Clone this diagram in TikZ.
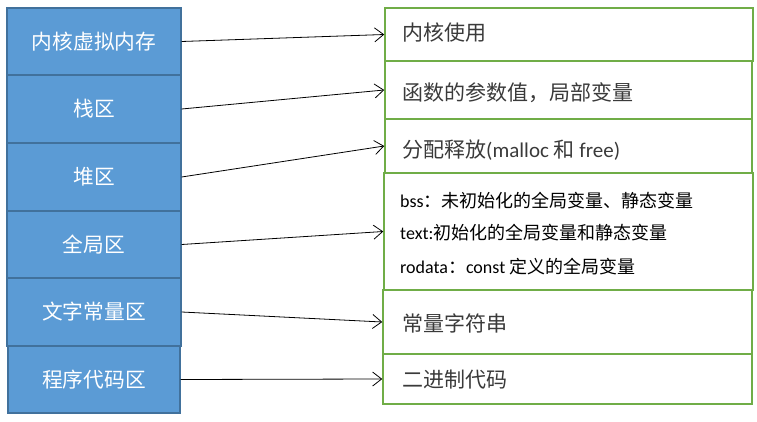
\documentclass[tikz,border=0pt]{standalone}
\usepackage{fontspec}
\setmainfont{Carlito}
\newfontfamily\cjk{Noto Sans CJK SC}
\newfontfamily\lat{Carlito}
\usetikzlibrary{arrows.meta}
\definecolor{lfill}{HTML}{5B9BD5}
\definecolor{ldraw}{HTML}{41719C}
\definecolor{rdraw}{HTML}{70AD47}
\definecolor{rtext}{HTML}{3A3A3A}
\tikzset{
  lbox/.style={rectangle, draw=ldraw, fill=lfill, line width=1.3pt, inner sep=0pt,
    text=white, font=\cjk\fontsize{20.7}{24}\selectfont},
  rbox/.style={rectangle, draw=rdraw, line width=1.5pt, inner sep=0pt},
  rlabel/.style={anchor=west, inner sep=0pt, text=rtext, font=\cjk\fontsize{21}{25}\selectfont},
  slabel/.style={anchor=west, inner sep=0pt, text=black, font=\fontsize{18}{21}\selectfont},
  conn/.style={line width=0.8pt, -{Straight Barb[length=9pt,width=14pt,line width=0.8pt]}}
}
\begin{document}
\begin{tikzpicture}[x=1pt,y=-1pt]
\useasboundingbox (0,0) rectangle (757,422);
% left column
\node[lbox, minimum width=174pt, minimum height=67pt] (L1) at (94,41.5) {内核虚拟内存};
\node[lbox, minimum width=174pt, minimum height=68pt] (L2) at (94,109) {栈区};
\node[lbox, minimum width=174pt, minimum height=68pt] (L3) at (94,177) {堆区};
\node[lbox, minimum width=174pt, minimum height=67pt] (L4) at (94,244.5) {全局区};
\node[lbox, minimum width=174pt, minimum height=68pt] (L5) at (94,312) {文字常量区};
\node[lbox, minimum width=172pt, minimum height=67pt] (L6) at (94,379.5) {程序代码区};
% right column
\node[rbox, minimum width=368pt, minimum height=53pt] (R1) at (569,34.5) {};
\node[rbox, minimum width=367pt, minimum height=58pt] (R2) at (568.5,90) {};
\node[rbox, minimum width=367pt, minimum height=54pt] (R3) at (568.5,146) {};
\node[rbox, minimum width=369pt, minimum height=117pt] (R4) at (568.5,231.5) {};
\node[rbox, minimum width=369pt, minimum height=64pt] (R5) at (567.5,322) {};
\node[rbox, minimum width=369pt, minimum height=50pt] (R6) at (567.5,379) {};
% right texts
\node[rlabel] (T1) at (402,33) {内核使用};
\node[rlabel] (T2) at (402,93) {函数的参数值，局部变量};
\node[rlabel] (T3) at (402,150) {分配释放{\lat (malloc }和{\lat\ free)}};
\node[slabel] (T4a) at (400,201) {bss{\cjk ：未初始化的全局变量、静态变量}};
\node[slabel] (T4b) at (400,233) {text:{\cjk 初始化的全局变量和静态变量}};
\node[slabel] (T4c) at (400,267) {rodata{\cjk ：}const {\cjk 定义的全局变量}};
\node[rlabel] (T5) at (402,323) {常量字符串};
\node[rlabel] (T6) at (402,380) {二进制代码};
% connectors
\draw[conn] (L1.east) -- (R1.west);
\draw[conn] (L2.east) -- (R2.west);
\draw[conn] (L3.east) -- (R3.west);
\draw[conn] (L4.east) -- (R4.west);
\draw[conn] (L5.east) -- (R5.west);
\draw[conn] (L6.east) -- (R6.west);
\end{tikzpicture}
\end{document}
